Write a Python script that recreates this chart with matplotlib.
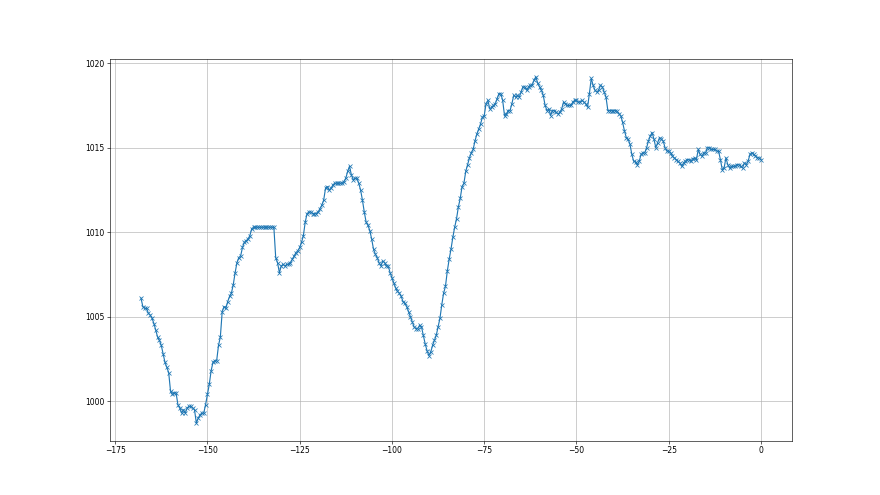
import numpy as np
import matplotlib
matplotlib.use("Agg")
import matplotlib.pyplot as plt
from matplotlib.ticker import MultipleLocator

# half-hourly readings, hours relative to now
pressure = [
    1006.1, 1005.6, 1005.5, 1005.5, 1005.2, 1005.1, 1004.9, 1004.6,
    1004.2, 1003.8, 1003.6, 1003.3, 1002.8, 1002.3, 1002.0, 1001.7,
    1000.6, 1000.4, 1000.5, 1000.5, 999.8, 999.6, 999.3, 999.5,
    999.3, 999.6, 999.7, 999.7, 999.6, 999.5, 998.7, 999.0,
    999.2, 999.3, 999.3, 999.8, 1000.4, 1001.0, 1001.8, 1002.3,
    1002.4, 1002.4, 1003.3, 1003.8, 1005.3, 1005.6, 1005.5, 1005.9,
    1006.2, 1006.4, 1006.9, 1007.6, 1008.2, 1008.5, 1008.6, 1009.1,
    1009.4, 1009.5, 1009.6, 1009.8, 1010.2, 1010.3, 1010.3, 1010.3,
    1010.3, 1010.3, 1010.3, 1010.3, 1010.3, 1010.3, 1010.3, 1010.3,
    1010.3, 1008.5, 1008.2, 1007.6, 1008.0, 1008.1, 1008.0, 1008.1,
    1008.1, 1008.2, 1008.4, 1008.6, 1008.8, 1008.9, 1009.1, 1009.4,
    1009.8, 1010.6, 1011.1, 1011.2, 1011.2, 1011.1, 1011.1, 1011.1,
    1011.2, 1011.4, 1011.6, 1011.9, 1012.6, 1012.7, 1012.5, 1012.6,
    1012.8, 1012.9, 1012.9, 1012.9, 1012.9, 1012.9, 1013.0, 1013.2,
    1013.6, 1013.9, 1013.4, 1013.1, 1013.2, 1013.2, 1012.9, 1012.5,
    1011.9, 1011.2, 1010.6, 1010.4, 1010.1, 1009.6, 1009.0, 1008.7,
    1008.5, 1008.2, 1008.0, 1008.3, 1008.2, 1008.0, 1008.0, 1007.6,
    1007.3, 1007.0, 1006.7, 1006.5, 1006.4, 1006.2, 1005.9, 1005.8,
    1005.6, 1005.3, 1005.0, 1004.7, 1004.4, 1004.3, 1004.3, 1004.5,
    1004.4, 1003.9, 1003.4, 1003.0, 1002.7, 1002.9, 1003.3, 1003.6,
    1003.9, 1004.4, 1004.9, 1005.7, 1006.4, 1006.8, 1007.7, 1008.4,
    1009.0, 1009.7, 1010.3, 1010.8, 1011.5, 1012.0, 1012.7, 1012.9,
    1013.6, 1014.0, 1014.4, 1014.7, 1014.9, 1015.4, 1015.8, 1016.1,
    1016.4, 1016.8, 1016.9, 1017.6, 1017.8, 1017.3, 1017.4, 1017.5,
    1017.6, 1017.9, 1018.2, 1018.2, 1017.8, 1016.9, 1017.0, 1017.2,
    1017.2, 1017.6, 1018.1, 1018.0, 1018.1, 1018.0, 1018.3, 1018.6,
    1018.6, 1018.4, 1018.6, 1018.7, 1018.7, 1019.0, 1019.2, 1018.8,
    1018.6, 1018.4, 1018.1, 1017.5, 1017.2, 1017.3, 1016.9, 1017.2,
    1017.2, 1017.1, 1017.0, 1017.1, 1017.3, 1017.7, 1017.6, 1017.5,
    1017.5, 1017.5, 1017.7, 1017.8, 1017.8, 1017.7, 1017.7, 1017.8,
    1017.7, 1017.6, 1017.4, 1018.2, 1019.1, 1018.7, 1018.4, 1018.3,
    1018.4, 1018.7, 1018.6, 1018.3, 1018.0, 1017.2, 1017.2, 1017.2,
    1017.2, 1017.2, 1017.15, 1017.0, 1016.9, 1016.5, 1016.0, 1015.6,
    1015.5, 1015.2, 1014.6, 1014.2, 1014.15, 1014.0, 1014.2, 1014.6,
    1014.7, 1014.7, 1015.0, 1015.4, 1015.7, 1015.9, 1015.5, 1015.0,
    1015.3, 1015.6, 1015.5, 1015.4, 1015.0, 1014.8, 1014.8, 1014.7,
    1014.5, 1014.4, 1014.3, 1014.2, 1014.1, 1013.9, 1014.1, 1014.2,
    1014.3, 1014.3, 1014.2, 1014.35, 1014.4, 1014.3, 1014.9, 1014.6,
    1014.5, 1014.7, 1014.7, 1015.0, 1015.0, 1014.9, 1014.9, 1014.9,
    1014.8, 1014.8, 1014.3, 1013.7, 1013.8, 1014.4, 1014.0, 1013.8,
    1013.9, 1013.9, 1013.9, 1014.0, 1014.0, 1013.9, 1013.8, 1014.1,
    1014.0, 1014.2, 1014.6, 1014.7, 1014.6, 1014.5, 1014.4, 1014.4,
    1014.3,
]
hours = np.arange(len(pressure)) * 0.5 - 168.0

fig, ax = plt.subplots(figsize=(16, 9), dpi=55)
ax.plot(hours, pressure, marker="x", color="#1f77b4")
ax.yaxis.set_major_locator(MultipleLocator(5))
ax.xaxis.set_major_locator(MultipleLocator(25))
ax.grid(True)
fig.savefig("out.png", dpi=55)
